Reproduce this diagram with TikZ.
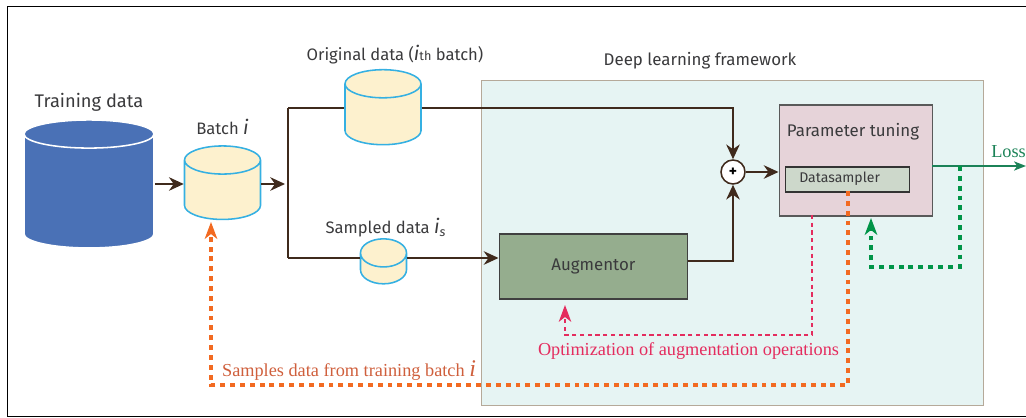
\documentclass[tikz,border=0pt]{standalone}
\usepackage{fontspec}
\setmainfont{Liberation Serif}
\newfontfamily\labelfont{Fira Sans}
\usetikzlibrary{arrows.meta}
\usetikzlibrary{calc}
\usetikzlibrary{positioning}
\usetikzlibrary{shapes.geometric}
\definecolor{brownline}{HTML}{3F2A1C}
\definecolor{labelgray}{HTML}{3A3A3C}
\definecolor{storeblue}{HTML}{4A71B6}
\definecolor{stemblue}{HTML}{35B0E2}
\definecolor{stemfill}{HTML}{FDF1CE}
\definecolor{framefill}{HTML}{E6F4F3}
\definecolor{framedraw}{HTML}{B5A999}
\definecolor{augfill}{HTML}{95AD8E}
\definecolor{tunefill}{HTML}{E6D3D9}
\definecolor{samplerfill}{HTML}{CDD8CB}
\definecolor{orangeline}{HTML}{F26A21}
\definecolor{orangetext}{HTML}{CF5F3C}
\definecolor{pinkline}{HTML}{E42C5E}
\definecolor{greenline}{HTML}{009447}
\definecolor{lossgreen}{HTML}{1B8257}
\begin{document}
\begin{tikzpicture}[x=0.25mm, y=-0.25mm, >={Stealth[length=3.7mm, width=3.4mm, inset=1.2mm]},
	store/.style={cylinder, shape border rotate=90, draw=stemblue, line width=1.1pt, shape aspect=3, cylinder uses custom fill, cylinder body fill=stemfill, cylinder end fill=stemfill},
	bigstore/.style={store, draw=white, cylinder body fill=storeblue, cylinder end fill=storeblue},
	tag/.style={font=\labelfont\fontsize{11.8}{14}\selectfont, text=labelgray, inner sep=0pt},
	flow/.style={draw=brownline, line width=1.1pt},
	dashtip/.style={-{Stealth[length=4.2mm, width=3.1mm, inset=1.2mm]}},
	orangedash/.style={draw=orangeline, line width=2.4pt, dash pattern=on 3.5pt off 3.5pt, dashtip},
	greendash/.style={draw=greenline, line width=2.4pt, dash pattern=on 3.5pt off 3.5pt, dashtip},
	pinkdash/.style={draw=pinkline, line width=1.2pt, dash pattern=on 3pt off 2.5pt, dashtip},
]
\useasboundingbox (0,0) rectangle (1026,418);
\node [draw=black, line width=0.8pt, minimum width=1040*0.25mm, minimum height=410*0.25mm, anchor=north west, inner sep=0pt] (page) at (7,6) {};
\node [draw=framedraw, fill=framefill, line width=1pt, minimum width=502*0.25mm, minimum height=325*0.25mm, anchor=north west, inner sep=0pt] (framework) at (481,80) {};
\node [tag, font=\labelfont\fontsize{12}{14}\selectfont] (frameworktag) at (700,61) {Deep learning framework};
%
\node [bigstore, minimum width=130*0.25mm, minimum height=128*0.25mm] (training) at (89,194) {};
\node [tag, font=\labelfont\fontsize{13}{15}\selectfont] (trainingtag) [above=2mm of training] {Training data};
\node [store, minimum width=76*0.25mm, minimum height=73.5*0.25mm] (batch) at (222.5,193.5) {};
\node [tag] (batchtag) [above=2.5mm of batch] {Batch \textit{\fontsize{14}{14}\selectfont i}};
\node [store, minimum width=76*0.25mm, minimum height=75*0.25mm] (original) at (383,118) {};
\node [tag, xshift=3mm] (originaltag) [above=1.25mm of original] {Original data (\textit{\fontsize{14}{14}\selectfont i}{\fontsize{9}{9}\selectfont th} batch)};
\node [store, minimum width=46*0.25mm, minimum height=45*0.25mm] (sampled) at (383.5,273) {};
\node [tag, xshift=0.5mm] (sampledtag) [above=0.2mm of sampled] {Sampled data \textit{\fontsize{14}{14}\selectfont i}\textit{\fontsize{9}{9}\selectfont\raisebox{-2pt}{s}}};
%
\node [draw=black!75, fill=augfill, line width=1.2pt, minimum width=188*0.25mm, minimum height=65*0.25mm, inner sep=0pt, anchor=north west] (augmentor) at (498.5,233.5) {};
\node [draw=black!65, fill=tunefill, line width=1.2pt, minimum width=153*0.25mm, minimum height=111*0.25mm, inner sep=0pt, anchor=north west] (tuning) at (778.5,104) {};
\node [draw=black!80, fill=samplerfill, line width=1.2pt, minimum width=124*0.25mm, minimum height=25*0.25mm, inner sep=0pt, anchor=north west] (datasampler) at (784.5,166) {};
\node [circle, draw=brownline, fill=white, line width=1.1pt, minimum size=24*0.25mm, inner sep=0pt, font=\labelfont\bfseries\fontsize{11}{11}\selectfont] (plus) at (733,172) {+};
\node [tag, font=\labelfont\fontsize{12}{14}\selectfont] (augmentortag) at (augmentor.center) {Augmentor};
\node [tag, font=\labelfont\fontsize{12}{14}\selectfont] (tuningtag) at (853,132) {Parameter tuning};
\node [tag, anchor=west, font=\labelfont\fontsize{10}{12}\selectfont] (samplertag) at (799,179) {Datasampler};
%
\coordinate (fork) at (288,184);
\coordinate (upper) at (288,108);
\coordinate (lower) at (288,258);
\coordinate (lossend) at (1026,166);
\coordinate (lossout) at (932,166);
\coordinate (greentap) at (960,166);
\coordinate (greenback) at (871,218);
\coordinate (pinkstart) at (812,215);
\coordinate (pinkend) at (565,305);
\coordinate (orangestart) at (848,191);
\coordinate (orangeend) at (211,222);
%
\draw [flow, ->] (training.east |- fork) -- (batch.west |- fork);
\draw [flow, ->] (batch.east |- fork) -- ($(fork)+(-3,0)$);
\draw [flow] (upper) -- (lower);
\draw [flow] (upper) -- (original.west |- upper);
\draw [flow, ->] (original.east |- upper) -| (plus.north);
\draw [flow] (lower) -- (sampled.west |- lower);
\draw [flow, ->] (sampled.east |- lower) -- (augmentor.west |- lower);
\draw [flow, ->] (augmentor.east |- 0,261) -| (plus.south);
\draw [flow, ->] (plus) -- (tuning.west |- plus);
\draw [draw=lossgreen, line width=1.1pt, -{Stealth[length=3mm, width=2.3mm, inset=0.8mm]}] (lossout) -- (lossend);
\node [anchor=south west, text=lossgreen, inner sep=0pt, font=\fontsize{13}{15}\selectfont] (losstag) at (991,158) {Loss};
%
\draw [greendash] (greentap) -- (greentap |- 0,267) -| (greenback);
\draw [pinkdash] (pinkstart) -- (pinkstart |- 0,335) -| (pinkend);
\draw [orangedash] (orangestart) -- (orangestart |- 0,385) -| (orangeend);
\node [text=pinkline, inner sep=0pt, font=\fontsize{13}{15}\selectfont] (pinktag) at (688.5,351) {Optimization of augmentation operations};
\node [text=orangetext, inner sep=0pt, font=\fontsize{13}{15}\selectfont] (orangetag) at (349,371) {Samples data from training batch \textit{\fontsize{17}{17}\selectfont i}};
\end{tikzpicture}
\end{document}
